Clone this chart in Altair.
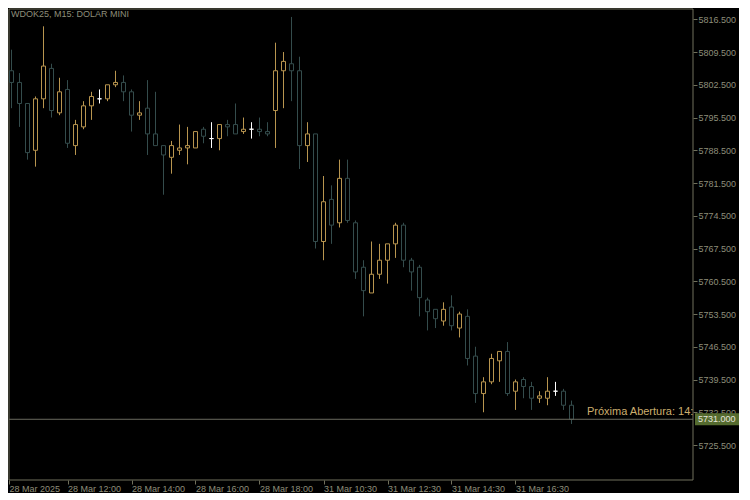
import altair as alt
import pandas as pd

# ---- data (WDOK25, M15) ----
bar_index = list(range(72))
opens = [5799.5, 5805.5, 5803, 5798.5, 5788.5, 5799.5, 5806, 5796.5, 5801.5, 5789.5,
         5793.5, 5798, 5799.5, 5799.5, 5802.5, 5803, 5801, 5796, 5797.5, 5792,
         5789.5, 5787, 5788.5, 5789, 5789, 5793, 5791, 5791, 5794, 5794,
         5792.5, 5793, 5793, 5792.5, 5797, 5805.5, 5807, 5805.5, 5789.5, 5792,
         5769, 5778, 5773, 5782.5, 5773, 5763.5, 5758, 5762, 5765, 5768.5,
         5772.5, 5765, 5763.5, 5756.5, 5754.5, 5752, 5755, 5750.5, 5753, 5744.5,
         5736.5, 5739, 5743.5, 5745.5, 5737, 5739.5, 5738, 5735.5, 5735.5, 5737,
         5737, 5734]
highs = [5806, 5810, 5805, 5798.5, 5800, 5815, 5807, 5804, 5803.5, 5795,
         5799, 5801, 5801.5, 5802.5, 5805.5, 5804.5, 5801.5, 5799, 5803.5, 5801,
         5789.5, 5790.5, 5794, 5793.5, 5792.5, 5793.5, 5794.5, 5794, 5795, 5798.5,
         5795.5, 5794.5, 5795.5, 5794.5, 5811.5, 5809.5, 5817, 5808.5, 5794.5, 5792,
         5783, 5781, 5786.5, 5786.5, 5773.5, 5765, 5769, 5768.5, 5768.5, 5773,
         5773, 5765.5, 5764, 5757, 5754.5, 5756, 5757.5, 5754, 5754.5, 5746.5,
         5740, 5745, 5745.5, 5747.5, 5739.5, 5740, 5739, 5737, 5740, 5739,
         5737.5, 5735]
lows = [5799, 5797.5, 5793.5, 5786.5, 5785, 5797.5, 5795.5, 5796, 5789, 5787.5,
        5793, 5795, 5798.5, 5799, 5802, 5799, 5792.5, 5795, 5787.5, 5789.5,
        5779, 5783.5, 5787.5, 5785.5, 5789, 5790, 5789, 5788.5, 5791.5, 5792,
        5792, 5791, 5791.5, 5791.5, 5789, 5797.5, 5799, 5784.5, 5786, 5767.5,
        5765, 5768.5, 5772, 5773, 5761, 5753, 5758, 5761, 5760, 5765.5,
        5763.5, 5758.5, 5753, 5750, 5750.5, 5751, 5750, 5748.5, 5742.5, 5734.5,
        5732.5, 5738.5, 5739, 5736, 5733, 5735.5, 5733, 5734.5, 5734, 5736,
        5733, 5730]
closes = [5805, 5803, 5798.5, 5788, 5799.5, 5806.5, 5797, 5801, 5790, 5794,
          5798, 5800, 5799.5, 5802.5, 5803, 5801, 5796, 5796.5, 5792, 5789.5,
          5787.5, 5789.5, 5789, 5789.5, 5792.5, 5791.5, 5791, 5794, 5793.5, 5792,
          5793, 5793, 5792.5, 5792, 5805.5, 5807.5, 5805.5, 5789.5, 5792, 5769,
          5777.5, 5772.5, 5782.5, 5773.5, 5762.5, 5758.5, 5762, 5765, 5768.5, 5772.5,
          5765, 5762.5, 5757, 5754, 5752.5, 5754.5, 5751, 5753.5, 5744, 5736.5,
          5739, 5744, 5745.5, 5736.5, 5739, 5738, 5735.5, 5736, 5737, 5737,
          5734, 5731]

y_tick_values = [5725.5, 5732.5, 5739.5, 5746.5, 5753.5, 5760.5, 5767.5,
                 5774.5, 5781.5, 5788.5, 5795.5, 5802.5, 5809.5, 5816.5]
x_tick_bars = [0, 8, 16, 24, 32, 40, 48, 56, 64]
x_tick_labels = ["28 Mar 2025", "28 Mar 12:00", "28 Mar 14:00", "28 Mar 16:00",
                 "28 Mar 18:00", "31 Mar 10:30", "31 Mar 12:30", "31 Mar 14:30",
                 "31 Mar 16:30"]
title_text = "WDOK25, M15:  DOLAR MINI"
bid_price = 5731.0
bid_label = "5731.000"
next_open_text = "Próxima Abertura: 14:"

# ---- styling ----
FONT = "Liberation Sans"
BULL = "#B8954F"
BEAR = "#344C4C"
DOJI = "#FFFFFF"
FRAME = "#70705C"
LABEL = "#8E8E7A"
W, H = 684, 471

X_LO, X_HI = 0.6875, 86.1875
x_scale = alt.Scale(domain=[X_LO, X_HI], nice=False, zero=False, padding=0)
y_scale = alt.Scale(domain=[5718.02, 5818.70], nice=False, zero=False, padding=0)

df = pd.DataFrame({"bar": bar_index, "open": opens, "high": highs,
                   "low": lows, "close": closes})
df["kind"] = ["bull" if c > o else ("bear" if c < o else "doji")
              for o, c in zip(df["open"], df["close"])]
df["top"] = df[["open", "close"]].max(axis=1)
df["bot"] = df[["open", "close"]].min(axis=1)

axis_vals = [X_LO if b < X_LO else b for b in x_tick_bars]
expr = "''"
for v, lab in reversed(list(zip(axis_vals, x_tick_labels))):
    expr = f"(abs(datum.value - {v}) < 0.01 ? '{lab}' : {expr})"

x_axis = alt.Axis(values=axis_vals, labelExpr=expr, title=None,
                  labelAlign="left", labelBaseline="top", labelPadding=0)
y_axis = alt.Axis(orient="right", values=y_tick_values, format=".3f",
                  title=None, labelPadding=1)
color_scale = alt.Scale(domain=["bull", "bear", "doji"], range=[BULL, BEAR, DOJI])
color_enc = alt.Color("kind:N", scale=color_scale, legend=None)

base = alt.Chart(df)
upper_wicks = base.mark_rule(strokeWidth=1, clip=True).encode(
    x=alt.X("bar:Q", scale=x_scale, axis=x_axis),
    y=alt.Y("top:Q", scale=y_scale, axis=y_axis),
    y2="high:Q",
    color=color_enc,
)
lower_wicks = base.mark_rule(strokeWidth=1, clip=True).encode(
    x=alt.X("bar:Q", scale=x_scale, axis=x_axis),
    y=alt.Y("low:Q", scale=y_scale, axis=y_axis),
    y2="bot:Q",
    color=color_enc,
)
bodies = base.mark_bar(size=4, filled=False, strokeWidth=1, clip=True).encode(
    x=alt.X("bar:Q", scale=x_scale, axis=x_axis),
    y=alt.Y("open:Q", scale=y_scale, axis=y_axis),
    y2="close:Q",
    color=color_enc,
)

bid_df = pd.DataFrame({"price": [bid_price], "label": [bid_label],
                       "note": [next_open_text], "title": [title_text]})
frame = alt.Chart(bid_df).mark_rect(fill="#000000", fillOpacity=0, stroke=FRAME,
                                    strokeWidth=1).encode(
    x=alt.value(0), x2=alt.value(W), y=alt.value(0), y2=alt.value(H))
bid_line = alt.Chart(bid_df).mark_rule(color="#6A6A5E", strokeWidth=1).encode(
    x=alt.value(0), x2=alt.value(W),
    y=alt.Y("price:Q", scale=y_scale, axis=y_axis))
bid_box = alt.Chart(bid_df).mark_rect(color="#556B2F", yOffset=-6, y2Offset=6).encode(
    x=alt.value(686), x2=alt.value(730),
    y=alt.Y("price:Q", scale=y_scale, axis=y_axis), y2="price:Q")
bid_text = alt.Chart(bid_df).mark_text(
    font=FONT, fontSize=9, color="#E6E6DC", align="left", baseline="middle").encode(
    x=alt.value(689), y=alt.Y("price:Q", scale=y_scale, axis=y_axis), text="label:N")
note_text = alt.Chart(bid_df).mark_text(
    font=FONT, fontSize=11, color="#CDAE6E", align="left", baseline="bottom",
    dy=-2, clip=True).encode(
    x=alt.value(578), y=alt.Y("price:Q", scale=y_scale, axis=y_axis), text="note:N")
title_mark = alt.Chart(bid_df).mark_text(
    font=FONT, fontSize=9, color=LABEL, align="left", baseline="top").encode(
    x=alt.value(2), y=alt.value(1), text="title:N")

chart = alt.layer(frame, upper_wicks, lower_wicks, bodies, bid_line, bid_box,
                  bid_text, note_text, title_mark).properties(
    width=W, height=H, padding=0, background="#000000"
).configure_view(strokeWidth=0).configure_axis(
    grid=False, domain=False, tickSize=4, tickColor=FRAME, labelColor=LABEL,
    labelFont=FONT, labelFontSize=9, labelOverlap=False, labelFlush=False,
    labelBound=False
)

chart.save("out.html", embed_options={"renderer": "svg", "actions": False})
